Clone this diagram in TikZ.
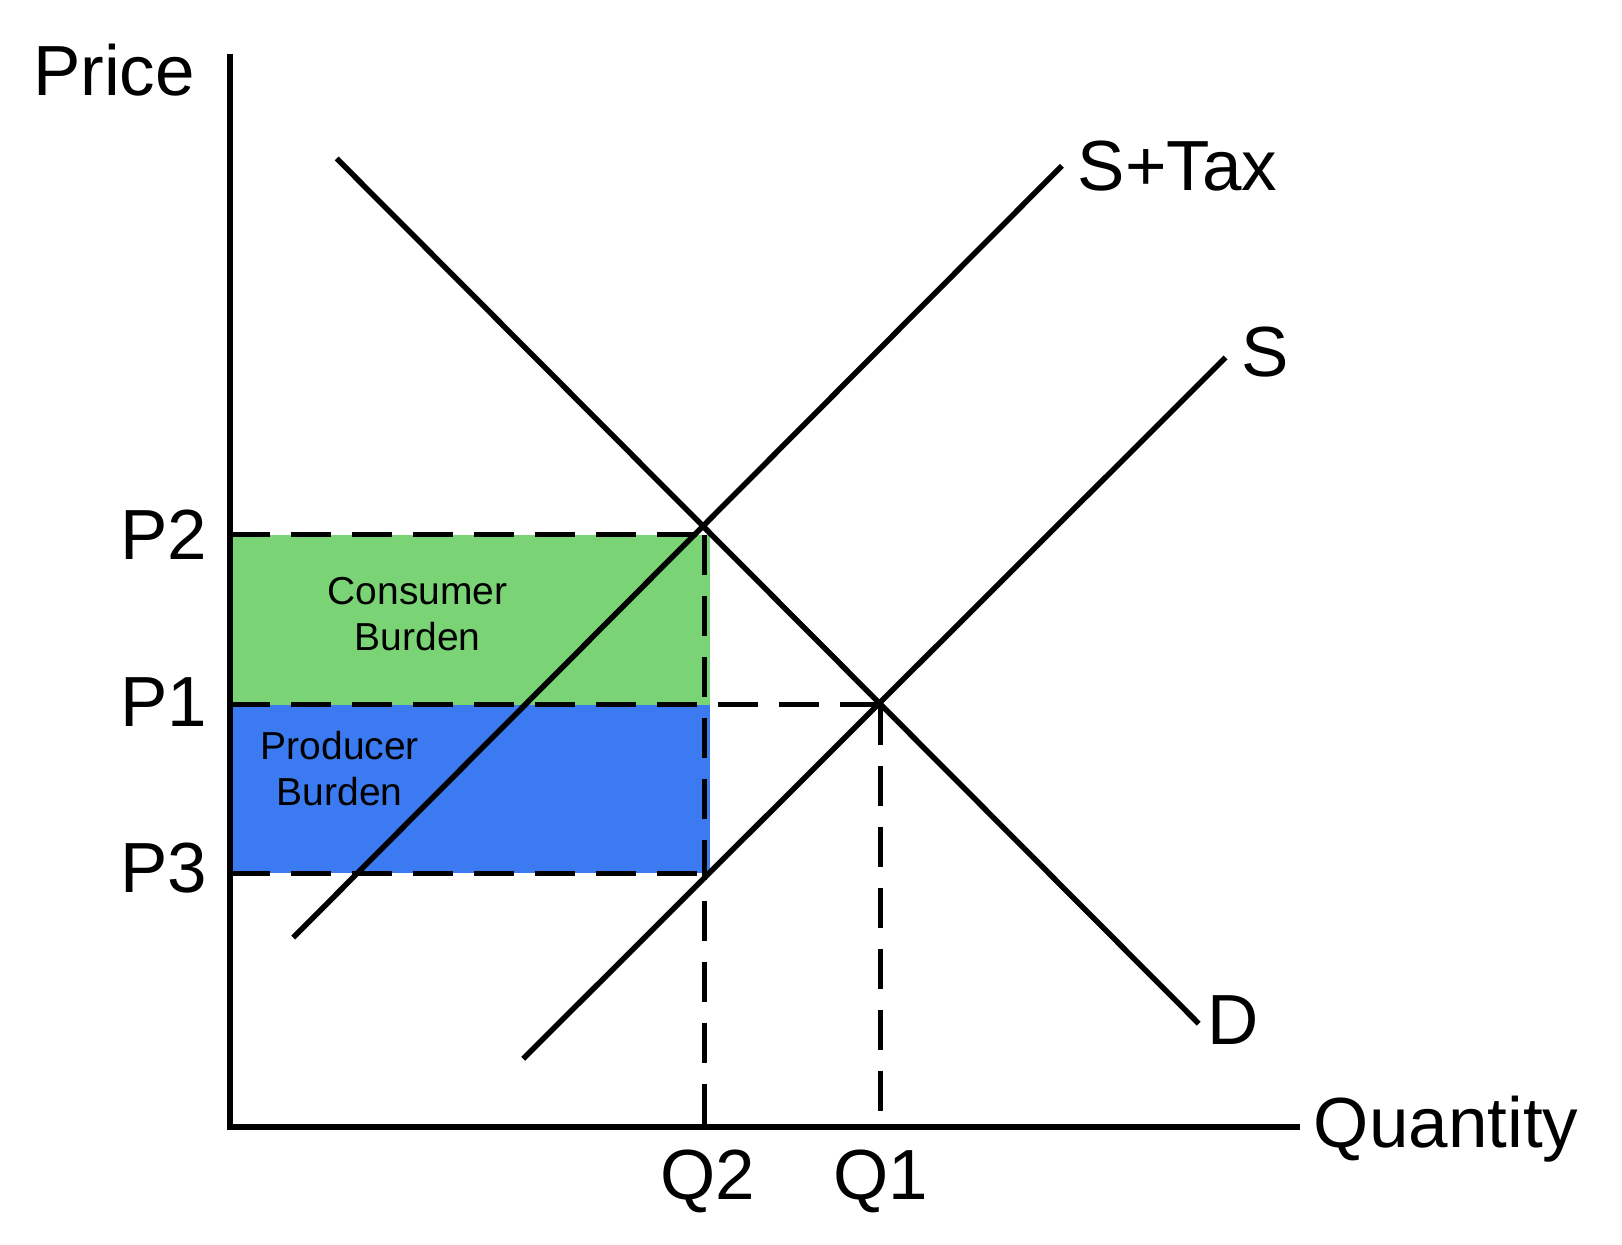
\documentclass[tikz,border=0pt]{standalone}
\usepackage{fontspec}
\setmainfont{Liberation Sans}
\usetikzlibrary{positioning}
\definecolor{consumergreen}{RGB}{122,212,118}
\definecolor{producerblue}{RGB}{59,122,240}
\tikzset{curve/.style = {draw, line width=5.5pt}}
\tikzset{axis/.style = {draw, line width=6.5pt}}
\tikzset{guide/.style = {draw, line width=5pt, dash pattern=on 40pt off 21pt}}
\tikzset{big/.style = {font=\fontsize{71}{75}\selectfont, inner sep=0pt}}
\tikzset{small/.style = {font=\fontsize{39}{46}\selectfont, align=center, inner sep=0pt}}

\begin{document}
\begin{tikzpicture}[x=1.036pt, y=-1.036pt]
    \useasboundingbox (0,0) rectangle (1565.6,1201.7);

    % burden areas
    \fill [consumergreen] (222,516) rectangle (685,680);
    \fill [producerblue] (222,680) rectangle (685,843);

    % points
    \coordinate (origin) at (222,1088);
    \coordinate (ytop) at (222,52);
    \coordinate (xend) at (1255,1088);
    \coordinate (dA) at (325,153);
    \coordinate (dB) at (1157,988);
    \coordinate (tA) at (283,905);
    \coordinate (tB) at (1025,160);
    \coordinate (sA) at (505,1022);
    \coordinate (sB) at (1183,345);
    \coordinate (p2) at (222,516);
    \coordinate (p1) at (222,680);
    \coordinate (p3) at (222,843);
    \coordinate (e2) at (680,516);
    \coordinate (e1) at (850,680);
    \coordinate (e3) at (680,843);
    \coordinate (q2) at (680,1088);
    \coordinate (q1) at (850,1088);

    % guides
    \draw [guide] (p2) -- (e2);
    \draw [guide] (p1) -- (e1);
    \draw [guide] (p3) -- (e3);
    \draw [guide] (e2) -- (q2);
    \draw [guide] (e1) -- (q1);

    % curves
    \draw [curve] (dA) -- (dB);
    \draw [curve] (tA) -- (tB);
    \draw [curve] (sA) -- (sB);

    % axes
    \draw [axis] (ytop) -- (origin) -- (xend);

    % labels
    \node [big] (price) at (110,68) {Price};
    \node [big, anchor=west] (quantity) at (1268,1090) {Quantity};
    \node [big, anchor=west] (stax) at (1040,160) {S+Tax};
    \node [big, anchor=west] (slabel) at (1198,340) {S};
    \node [big, anchor=west] (dlabel) at (1165,985) {D};
    \node [big] (p2label) at (158,516) {P2};
    \node [big] (p1label) at (158,678) {P1};
    \node [big] (p3label) at (158,838) {P3};
    \node [big] (q2label) at (683,1140) {Q2};
    \node [big] (q1label) at (850,1140) {Q1};
    \node [small] (consumer) at (403,593) {Consumer\\Burden};
    \node [small] (producer) at (328,742) {Producer\\Burden};
\end{tikzpicture}
\end{document}
